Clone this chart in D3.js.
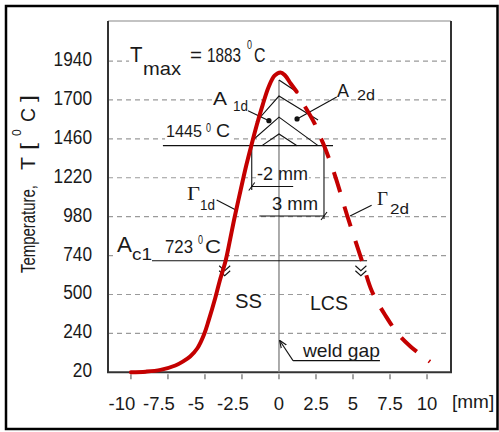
<!DOCTYPE html>
<html>
<head>
<meta charset="utf-8">
<style>
  body { margin: 0; background: #fff; }
  svg { display: block; }
  text { font-family: Arial, "Liberation Sans", sans-serif; fill: #1a1a1a; }
  .grid { stroke: #9a9a9a; stroke-width: 1.2; stroke-dasharray: 5,4; }
  .note { stroke: #111; stroke-width: 1.1; fill: none; }
</style>
<script src="https://d3js.org/d3.v7.min.js"></script>
</head>
<body>
<script>

// temperature profile across the joint, SS side (solid)
var ssX = [-10, -9, -8, -7, -6.5, -6, -5.5, -5.05, -4.75, -4.3, -4, -3.6, -3.3, -3.0, -2.6, -2.2, -1.85, -1.5, -1.1, -0.7, -0.3, 0.1, 0.4, 0.8, 1.2];
var ssT = [20, 24, 35, 62, 86, 118, 170, 256, 340, 480, 585, 710, 840, 975, 1140, 1300, 1425, 1545, 1670, 1780, 1850, 1870, 1852, 1800, 1751];
// LCS side (dashed)
var lcsX = [1.75, 2.4, 2.8, 3.05, 3.8, 4.6, 5.6, 6.3, 7.25, 8.05, 8.9, 10.2];
var lcsT = [1660, 1556, 1469, 1418, 1229, 989, 709, 515, 362, 256, 178, 85];

var xTicks = [-10, -7.5, -5, -2.5, 0, 2.5, 5, 7.5, 10];
var xLabels = ["-10", "-7.5", "-5", "-2.5", "0", "2.5", "5", "7.5", "10"];
var yTicks = [20, 260, 500, 740, 980, 1220, 1460, 1700, 1940];
var yLabels = ["20", "240", "500", "740", "980", "1220", "1460", "1700", "1940"];

// reference lines
var meltT = 1418, meltFrom = -7.84, meltTo = 3.65;     // "1445 0C"
var ac1T = 708, ac1From = -8.58, ac1To = 5.95;         // "723 0C"
var ac1Cross = [-3.6, 5.6];
var topT = 1823;
var chevrons = [
  [[0, 1823], [1.22, 1749]],
  [[-1.55, 1564], [0, 1724], [2.64, 1576]],
  [[-1.76, 1453], [0, 1594], [2.64, 1418]],
  [[-1.15, 1418], [0, 1490], [1.22, 1418]]
];
var dots = [[-0.68, 1572], [1.22, 1583]];
var leaders = [
  [[-2.09, 1634], [-0.68, 1572]],
  [[3.9, 1718], [1.22, 1583]],
  [[-4.21, 1083], [-2.91, 1021]],
  [[6.26, 1051], [4.8, 984]]
];
var left2 = { x: -1.84, bottom: 1145, arrowT: 1166, to: 0.96 };
var right3 = { x: 3.04, bottom: 966, arrowT: 984, from: -1.33 };
var gapArrow = [[0.95, 92], [0.07, 213]], gapUnderTo = 6.82;

var W = 499, H = 432;
var xs = d3.scaleLinear().domain([-11.55, 11.62]).range([108, 451]);
var ys = d3.scaleLinear().domain([20, 2187]).range([372.3, 21]);

var svg = d3.select("body").append("svg").attr("width", W).attr("height", H);

svg.append("defs").append("marker")
    .attr("id", "arr").attr("viewBox", "0 0 10 10").attr("refX", 9).attr("refY", 5)
    .attr("markerWidth", 7).attr("markerHeight", 7).attr("orient", "auto")
  .append("path").attr("d", "M0,1 L10,5 L0,9").attr("fill", "none").attr("stroke", "#111").attr("stroke-width", 1.5);

svg.append("rect").attr("x", 6).attr("y", 6).attr("width", 491.5).attr("height", 423)
    .attr("fill", "#fff").attr("stroke", "#000").attr("stroke-width", 2.5);

// grid
svg.append("g").selectAll("line").data(yTicks.slice(1)).enter().append("line")
    .attr("class", "grid")
    .attr("x1", xs.range()[0]).attr("x2", xs.range()[1])
    .attr("y1", function (d) { return ys(d); }).attr("y2", function (d) { return ys(d); });

var gBg = svg.append("g"), gLines = svg.append("g"), gCurves = svg.append("g"), gText = svg.append("g");

// frame
gLines.append("line").attr("x1", 108).attr("x2", 451).attr("y1", 21).attr("y2", 21).attr("stroke", "#888").attr("stroke-width", 1.2);
gLines.append("line").attr("x1", 451).attr("x2", 451).attr("y1", 21).attr("y2", ys(20)).attr("stroke", "#333").attr("stroke-width", 2);
gLines.append("line").attr("x1", 108).attr("x2", 108).attr("y1", 21).attr("y2", ys(20)).attr("stroke", "#333").attr("stroke-width", 2);
gLines.append("line").attr("x1", 107).attr("x2", 452).attr("y1", ys(20)).attr("y2", ys(20)).attr("stroke", "#333").attr("stroke-width", 2);

// x ticks + labels
gLines.selectAll(".xt").data(xTicks).enter().append("line")
    .attr("x1", function (d) { return xs(d); }).attr("x2", function (d) { return xs(d); })
    .attr("y1", ys(20) + 2).attr("y2", ys(20) + 7).attr("stroke", "#666").attr("stroke-width", 1.2);
gText.selectAll(".xl").data(xTicks).enter().append("text")
    .attr("x", function (d) { return xs(d) + (d < 0 ? -9 : 0); })
    .attr("y", 410).attr("text-anchor", "middle").attr("font-size", 18.5)
    .text(function (d, i) { return xLabels[i]; });
gText.append("text").attr("x", 452).attr("y", 408).attr("font-size", 19).text("[mm]");

// y labels
gText.selectAll(".yl").data(yTicks).enter().append("text")
    .attr("x", 92).attr("y", function (d) { return ys(d) + 5; })
    .attr("text-anchor", "end").attr("font-size", 20)
    .attr("textLength", function (d, i) { return 9.6 * yLabels[i].length; })
    .attr("lengthAdjust", "spacingAndGlyphs")
    .text(function (d, i) { return yLabels[i]; });

// y title (rotated)
var yt = gText.append("g").attr("transform", "translate(35,273) rotate(-90)");
[[0, 0, "Temperature,", 20, 88], [103, 0, "T", 20, 13], [123, 0, "[", 20, 7],
 [137, -14, "0", 12, 0], [151, 0, "C", 20, 14], [171, 0, "]", 20, 7]].forEach(function (p) {
  var t = yt.append("text").attr("x", p[0]).attr("y", p[1]).attr("font-size", p[3]).text(p[2]);
  if (p[4]) t.attr("textLength", p[4]).attr("lengthAdjust", "spacingAndGlyphs");
});

// center line (weld gap)
gLines.append("line").attr("x1", xs(0)).attr("x2", xs(0)).attr("y1", ys(topT)).attr("y2", ys(20))
    .attr("stroke", "#888").attr("stroke-width", 1.4);

// reference lines
gLines.append("line").attr("class", "note").attr("x1", xs(meltFrom)).attr("x2", xs(meltTo))
    .attr("y1", ys(meltT)).attr("y2", ys(meltT));
gLines.append("line").attr("class", "note").attr("x1", xs(ac1From)).attr("x2", xs(ac1To))
    .attr("y1", ys(ac1T)).attr("y2", ys(ac1T));

var pl = d3.line().x(function (d) { return xs(d[0]); }).y(function (d) { return ys(d[1]); });
chevrons.forEach(function (c) { gLines.append("path").attr("class", "note").attr("d", pl(c)); });
leaders.forEach(function (c) { gLines.append("path").attr("class", "note").attr("d", pl(c)); });
dots.forEach(function (d) {
  gLines.append("circle").attr("cx", xs(d[0])).attr("cy", ys(d[1])).attr("r", 2.6).attr("fill", "#111");
});

// -2 mm and 3 mm dimension marks
gLines.append("path").attr("class", "note").attr("d", pl([[left2.x, meltT], [left2.x, left2.bottom]]));
gLines.append("path").attr("class", "note").attr("d", pl([[left2.x, left2.arrowT], [left2.to, left2.arrowT]]));
gLines.append("path").attr("class", "note").attr("d", pl([[right3.x, meltT], [right3.x, right3.bottom]]));
gLines.append("path").attr("class", "note").attr("d", pl([[right3.from, right3.arrowT], [right3.x, right3.arrowT]]));
[[left2.x, left2.arrowT], [right3.x, right3.arrowT]].forEach(function (d) {
  var cx = xs(d[0]), cy = ys(d[1]);
  gLines.append("path").attr("class", "note").attr("d", "M" + (cx - 3) + "," + (cy + 4) + "L" + (cx + 3) + "," + (cy - 4));
});

// Ac1 crossing marks
ac1Cross.forEach(function (x0) {
  var cx = xs(x0) - 1, cy = ys(ac1T);
  var d = "";
  [5, 10].forEach(function (o) {
    d += "M" + (cx - 5.5) + "," + (cy + o) + "L" + cx + "," + (cy + o + 5) + "L" + (cx + 5.5) + "," + (cy + o);
  });
  gLines.append("path").attr("class", "note").attr("d", d).attr("stroke-width", 1);
});

// weld gap arrow and underline
gLines.append("path").attr("class", "note").attr("d", pl(gapArrow)).attr("marker-end", "url(#arr)");
gLines.append("path").attr("class", "note").attr("d", pl([gapArrow[0], [gapUnderTo, gapArrow[0][1]]]));

// curves
var curve = d3.line().x(function (d) { return xs(d[0]); }).y(function (d) { return ys(d[1]); })
    .curve(d3.curveCatmullRom.alpha(0.5));
gCurves.append("path").attr("d", curve(ssX.map(function (x, i) { return [x, ssT[i]]; })))
    .attr("fill", "none").attr("stroke", "#c40000").attr("stroke-width", 4).attr("stroke-linecap", "round");
gCurves.append("path").attr("d", curve(lcsX.map(function (x, i) { return [x, lcsT[i]]; })))
    .attr("fill", "none").attr("stroke", "#c40000").attr("stroke-width", 4).attr("stroke-dasharray", "21,15");

// annotations: anchor in data units, pieces [dx, dy, text, size, width, family]
function label(at, parts, bg) {
  var px = xs(at[0]), py = ys(at[1]);
  var g = gText.append("g");
  parts.forEach(function (p) {
    var t = g.append("text").attr("x", px + p[0]).attr("y", py + p[1]).attr("font-size", p[3]).text(p[2]);
    if (p[4]) t.attr("textLength", p[4]).attr("lengthAdjust", "spacingAndGlyphs");
    if (p[5]) t.style("font-family", p[5]);
  });
  if (bg) {
    var b = g.node().getBBox();
    gBg.append("rect").attr("x", b.x - 1).attr("y", b.y).attr("width", b.width + 2).attr("height", b.height)
        .attr("fill", "#fff");
  }
}
var serif = "'Liberation Serif', 'Times New Roman', serif";

label([-10.06, 1934], [[0, 0, "T", 22, 12.5], [13, 13, "max", 19, 38], [60, 0, "=", 20, 12],
  [77, 0, "1883", 20, 34], [117, -13, "0", 12, 5], [124, 0, "C", 20, 11.5]], true);
label([-7.63, 1471], [[0, 0, "1445", 17, 36], [40, -5, "0", 12, 5], [50, 0, "C", 18, 14]], true);
label([-4.46, 1669], [[0, 0, "A", 18, 14], [20, 6, "1d", 14, 15]], true);
label([3.92, 1718], [[0, 0, "A", 18, 12], [20, 3, "2d", 14, 18]], false);
label([-6.21, 1083], [[0, 0, "\u0393", 19, 13, serif], [13, 10, "1d", 14, 15]], false);
label([6.62, 1052], [[0, 0, "\u0393", 19, 11, serif], [13, 9, "2d", 14, 19]], false);
label([-1.49, 1206], [[0, 0, "-2 mm", 18, 51]], true);
label([-0.47, 1021], [[0, 0, "3 mm", 18, 46]], false);
label([-10.94, 762], [[0, 0, "A", 22, 15], [15, 8, "c1", 17, 20], [48, 1, "723", 18, 28],
  [81, -8, "0", 12, 5], [88, 1, "C", 19, 16]], true);
label([-2.97, 417], [[0, 0, "SS", 20, 27]], true);
label([2.09, 404], [[0, 0, "LCS", 20, 38]], true);
label([1.62, 114], [[0, 0, "weld gap", 19, 77]], false);

</script>
</body>
</html>
